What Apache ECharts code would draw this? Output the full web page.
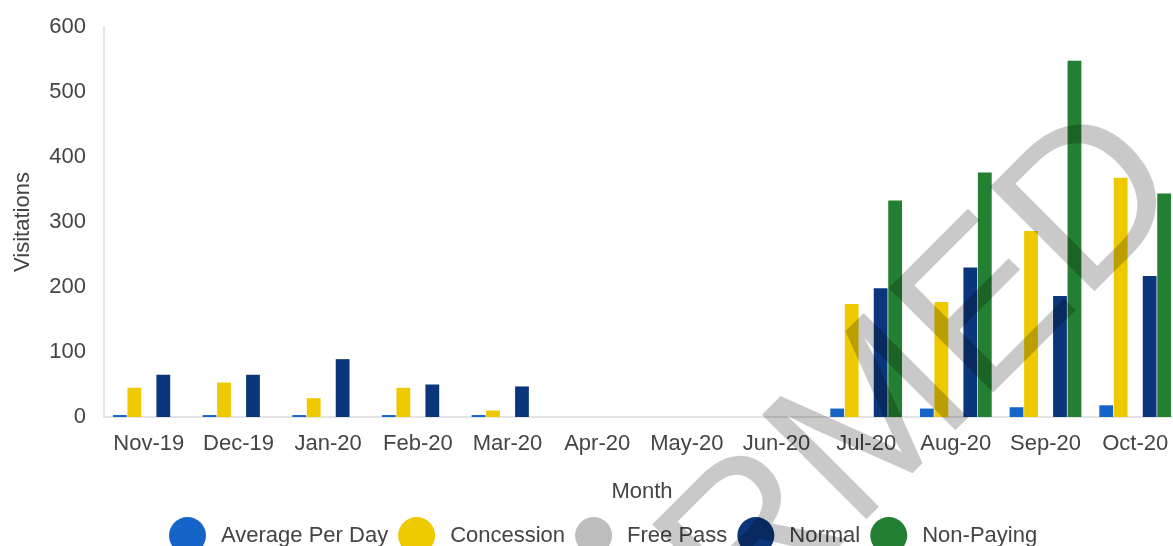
<!DOCTYPE html>
<html>
<head>
<meta charset="utf-8">
<script src="https://cdn.jsdelivr.net/npm/echarts@6/dist/echarts.min.js"></script>
<style>
  html, body { margin: 0; padding: 0; background: #ffffff; }
  #chart { width: 1173px; height: 546px; }
</style>
</head>
<body>
<div id="chart"></div>
<script>
  var months = ['Nov-19', 'Dec-19', 'Jan-20', 'Feb-20', 'Mar-20', 'Apr-20', 'May-20', 'Jun-20', 'Jul-20', 'Aug-20', 'Sep-20', 'Oct-20']
  var avgPerDay = [3, 3, 3, 3, 3, 0, 0, 0, 13, 13, 15, 18]
  var concession = [45, 53, 29, 45, 10, 0, 0, 0, 174, 177, 286, 368]
  var freePass = [0, 0, 0, 0, 0, 0, 0, 0, 0, 0, 0, 0]
  var normal = [65, 65, 89, 50, 47, 0, 0, 0, 198, 230, 186, 217]
  var nonPaying = [0, 0, 0, 0, 0, 0, 0, 0, 333, 376, 548, 344]
  var yTicks = [0, 100, 200, 300, 400, 500, 600]

  var font = "'Liberation Sans', Arial, sans-serif"
  var textColor = '#444444'

  function bar(name, data, color) {
    return {
      name: name,
      type: 'bar',
      data: data,
      itemStyle: { color: color },
      barCategoryGap: '20%',
      barGap: '5%'
    }
  }

  var myChart = echarts.init(document.getElementById('chart'))
  var option = {
    animation: false,
    textStyle: { fontFamily: font },
    grid: { left: 104, width: 1076, top: 27, bottom: 129, outerBoundsMode: 'none', containLabel: false },
    legend: {
      left: 164,
      top: 512,
      icon: 'circle',
      itemWidth: 37,
      itemHeight: 37,
      itemGap: 10,
      textStyle: { fontSize: 22, color: textColor, fontFamily: font, padding: [0, 0, 0, 10] },
      data: ['Average Per Day', 'Concession', 'Free Pass', 'Normal', 'Non-Paying']
    },
    xAxis: {
      type: 'category',
      data: months,
      name: 'Month',
      nameLocation: 'middle',
      nameGap: 64,
      nameTextStyle: { fontSize: 22, color: textColor },
      axisLine: { lineStyle: { color: '#e4e4e4', width: 2 } },
      axisTick: { show: false },
      axisLabel: { fontSize: 22, color: textColor, margin: 16, interval: 0 }
    },
    yAxis: {
      type: 'value',
      min: yTicks[0],
      max: yTicks[yTicks.length - 1],
      interval: 100,
      name: 'Visitations',
      nameLocation: 'middle',
      nameGap: 70,
      nameRotate: 90,
      nameTextStyle: { fontSize: 22, color: textColor },
      axisLine: { show: true, lineStyle: { color: '#e4e4e4', width: 2 } },
      axisTick: { show: false },
      splitLine: { show: false },
      axisLabel: { fontSize: 22, color: textColor, margin: 18 }
    },
    graphic: [
      {
        // watermark, drawn over everything
        type: 'text',
        x: 1226,
        y: 228,
        rotation: Math.PI / 4,
        z: 100,
        silent: true,
        style: {
          text: 'CONFIRMED',
          font: "215px 'Liberation Sans', Arial, sans-serif",
          fill: 'rgba(0, 0, 0, 0.21)',
          textAlign: 'right',
          textVerticalAlign: 'bottom'
        }
      }
    ],
    series: [
      bar('Average Per Day', avgPerDay, '#1565c8'),
      bar('Concession', concession, '#eec900'),
      bar('Free Pass', freePass, '#bdbdbd'),
      bar('Normal', normal, '#0c367c'),
      bar('Non-Paying', nonPaying, '#237f31')
    ]
  }
  myChart.setOption(option)
</script>
</body>
</html>
